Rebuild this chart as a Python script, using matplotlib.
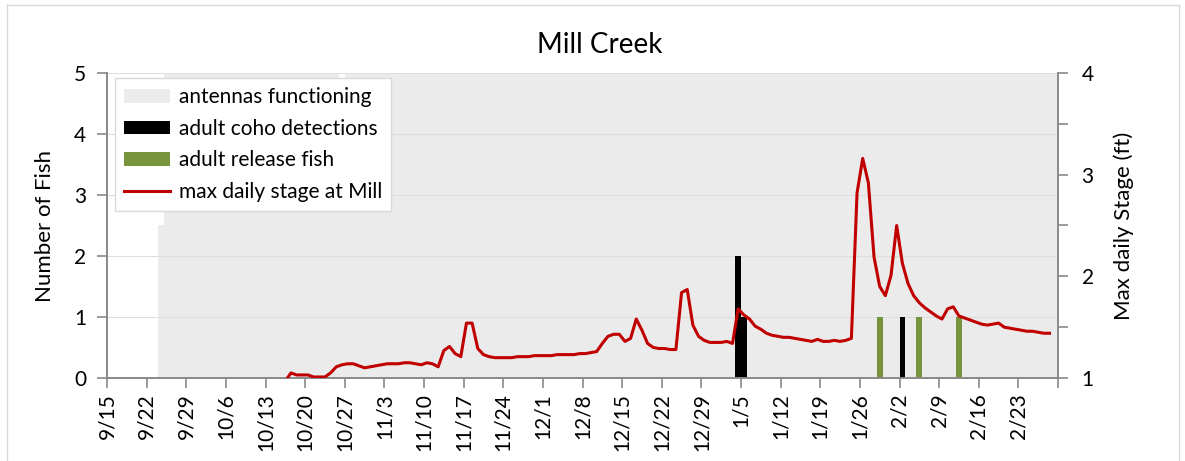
import numpy as np
import matplotlib
matplotlib.use("Agg")
import matplotlib.pyplot as plt
from matplotlib.patches import Patch
from matplotlib.lines import Line2D

plt.rcParams['font.family'] = ['Lato', 'DejaVu Sans']

# x axis is in days since 9/15
tick_labels = ['9/15', '9/22', '9/29', '10/6', '10/13', '10/20', '10/27', '11/3',
               '11/10', '11/17', '11/24', '12/1', '12/8', '12/15', '12/22', '12/29',
               '1/5', '1/12', '1/19', '1/26', '2/2', '2/9', '2/16', '2/23']
axis_end = 168

# antennas functioning (number-of-fish axis, full height = on)
antenna_first_day = 9
antenna_vals = [2.5] + [5.0] * 31 + [4.92] + [5.0] * 126

# adult coho detections
coho_days = [111, 112, 140]
coho_counts = [2, 1, 1]

# adult release fish
release_days = [136, 143, 150]
release_counts = [1, 1, 1]

# max daily stage at Mill (ft), daily from day 31 (10/16)
stage_first_day = 31
stage = [0.97, 1.05, 1.03, 1.03, 1.03, 1.01, 1.01, 1.01, 1.05, 1.11,
         1.13, 1.14, 1.14, 1.12, 1.10, 1.11, 1.12, 1.13, 1.14, 1.14,
         1.14, 1.15, 1.15, 1.14, 1.13, 1.15, 1.14, 1.11, 1.27, 1.31,
         1.24, 1.21, 1.54, 1.54, 1.29, 1.23, 1.21, 1.20, 1.20, 1.20,
         1.20, 1.21, 1.21, 1.21, 1.22, 1.22, 1.22, 1.22, 1.23, 1.23,
         1.23, 1.23, 1.24, 1.24, 1.25, 1.26, 1.34, 1.41, 1.43, 1.43,
         1.36, 1.39, 1.58, 1.47, 1.34, 1.30, 1.29, 1.29, 1.28, 1.28,
         1.84, 1.87, 1.52, 1.41, 1.37, 1.35, 1.35, 1.35, 1.36, 1.34,
         1.68, 1.62, 1.58, 1.51, 1.48, 1.44, 1.42, 1.41, 1.40, 1.40,
         1.39, 1.38, 1.37, 1.36, 1.38, 1.36, 1.36, 1.37, 1.36, 1.37,
         1.39, 2.82, 3.16, 2.92, 2.19, 1.90, 1.81, 2.01, 2.50, 2.13,
         1.93, 1.81, 1.74, 1.69, 1.65, 1.61, 1.58, 1.68, 1.70, 1.61,
         1.59, 1.57, 1.55, 1.53, 1.52, 1.53, 1.54, 1.50, 1.49, 1.48,
         1.47, 1.46, 1.46, 1.45, 1.44, 1.44]

gray = '#EBEBEB'
green = '#77933C'
red = '#C00000'
spine_col = '#898989'

fig = plt.figure(figsize=(11.85, 4.61), dpi=100)
ax = fig.add_axes([107 / 1185, 1 - 378 / 461, (1058 - 107) / 1185, (378 - 73) / 461])

antenna_days = np.arange(antenna_first_day, antenna_first_day + len(antenna_vals))
ax.bar(antenna_days, antenna_vals, width=1, align='edge', color=gray, linewidth=0, zorder=0.2)
ax.bar(coho_days, coho_counts, width=1, align='edge', color='black', linewidth=0, zorder=2)
ax.bar(release_days, release_counts, width=1, align='edge', color=green, linewidth=0, zorder=2)

ax.set_xlim(0, axis_end)
ax.set_ylim(0, 5)
ax.set_yticks(range(6))
ax.set_axisbelow(True)
ax.grid(axis='y', color='#DEDEDE', linewidth=0.8)
ax.set_xticks(np.arange(0, axis_end + 1, 7))
ax.set_xticklabels(tick_labels + [''], rotation=90)
ax.tick_params(axis='both', direction='out', length=7, width=1.2, color=spine_col,
               labelsize=15, pad=4)
ax.tick_params(axis='y', pad=8)
ax.set_ylabel('Number of Fish', fontsize=16, labelpad=14)

ax2 = ax.twinx()
stage_days = np.arange(stage_first_day, stage_first_day + len(stage)) + 0.5
ax2.plot(stage_days, stage, color=red, linewidth=2.2, zorder=3)
ax2.set_ylim(1, 4)
ax2.set_yticks([1, 2, 3, 4])
ax2.set_yticks([1.5, 2.5, 3.5], minor=True)
ax2.tick_params(axis='y', which='both', direction='out', length=7, width=1.2,
                color=spine_col, labelsize=15, pad=10)
ax2.set_ylabel('Max daily Stage (ft)', fontsize=16, labelpad=14)

for a in (ax, ax2):
    a.spines['top'].set_visible(False)
    for s in ('left', 'right', 'bottom'):
        a.spines[s].set_color(spine_col)
        a.spines[s].set_linewidth(1.2)

handles = [Patch(facecolor=gray, edgecolor='none'),
           Patch(facecolor='black', edgecolor='none'),
           Patch(facecolor=green, edgecolor='none'),
           Line2D([0], [0], color=red, linewidth=2.2)]
labels = ['antennas functioning', 'adult coho detections', 'adult release fish',
          'max daily stage at Mill']
leg = ax2.legend(handles, labels, loc='upper left', bbox_to_anchor=(8 / 951, 1 - 5 / 305),
                 borderaxespad=0, fontsize=15, frameon=True, fancybox=False, framealpha=1,
                 edgecolor='#D9D9D9', handlelength=2.2, handleheight=0.65,
                 borderpad=0.45, labelspacing=0.55, handletextpad=0.4)
leg.get_frame().set_linewidth(1.0)
leg.set_zorder(10)

fig.text(600 / 1185, 1 - 45 / 461, 'Mill Creek', ha='center', va='center', fontsize=20)

# chart area border
fig.add_artist(plt.Line2D([7 / 1185, 7 / 1185], [0, 1 - 5 / 461], color='#D9D9D9', lw=1,
                          transform=fig.transFigure))
fig.add_artist(plt.Line2D([7 / 1185, 1179 / 1185], [1 - 5 / 461, 1 - 5 / 461], color='#D9D9D9',
                          lw=1, transform=fig.transFigure))
fig.add_artist(plt.Line2D([1179 / 1185, 1179 / 1185], [0, 1 - 5 / 461], color='#D9D9D9', lw=1,
                          transform=fig.transFigure))

fig.savefig('out.png', dpi=100)
